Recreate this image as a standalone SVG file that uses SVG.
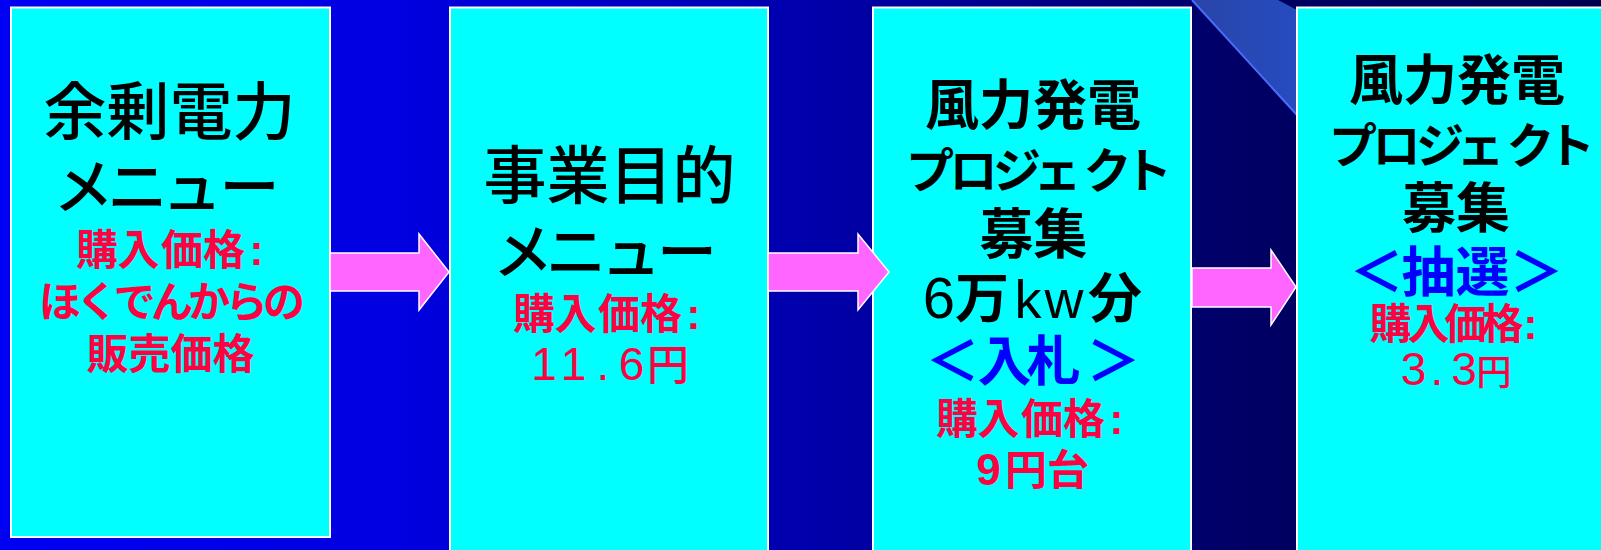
<svg xmlns="http://www.w3.org/2000/svg" width="1601" height="550" viewBox="0 0 1601 550">
<defs>
<linearGradient id="bg" x1="0" y1="0" x2="1601" y2="0" gradientUnits="userSpaceOnUse">
<stop offset="0" stop-color="#0000F2"/>
<stop offset="0.25" stop-color="#0000E0"/>
<stop offset="0.52" stop-color="#0000A8"/>
<stop offset="0.78" stop-color="#000064"/>
<stop offset="1" stop-color="#000050"/>
</linearGradient>
<linearGradient id="wedge" x1="1192" y1="0" x2="1297" y2="0" gradientUnits="userSpaceOnUse">
<stop offset="0" stop-color="#2A44A8"/>
<stop offset="1" stop-color="#264CC0"/>
</linearGradient>
<style>
.box{fill:#00FFFF;stroke:#FFFFFF;stroke-width:2}
.arrow{fill:#FF66FF;stroke:#FFFFFF;stroke-width:1.5}
text{font-family:"Liberation Sans","Noto Sans CJK JP",sans-serif;text-anchor:middle}
.t1{fill:#000000;font-size:63px;font-weight:500}
.k1{fill:#000000;font-size:60px;font-weight:500}
.t3{fill:#000000;font-size:54px;font-weight:700}
.k3{fill:#000000;font-size:48px;font-weight:700}
.lat{fill:#000000;font-size:54px;font-weight:400}
.red{fill:#FF0040;font-size:42px;font-weight:700}
.num{fill:#FF0040;font-size:46px;font-weight:500}
.blue{fill:#0000FF;font-size:54px;font-weight:700}
</style>
</defs>
<rect x="0" y="0" width="1601" height="550" fill="url(#bg)"/>
<polygon points="1192,0 1278,0 1297,10 1297,115" fill="url(#wedge)"/>
<line x1="1192" y1="0" x2="1297" y2="115" stroke="#4A6CFF" stroke-width="2"/>

<g id="box1">
<rect class="box" x="11" y="7.5" width="319" height="529.5"/>
<text class="t1" x="169.5" y="134">余剰電力</text>
<text class="k1" x="83.5 137.5 192 249.5" y="208.5">メニュー</text>
<text class="red" x="97 138.5 182 224 256.5" y="265">購入価格:</text>
<text class="red" font-size="41" x="60 97.3 134.7 172 209.3 246.7 284" y="317">ほくでんからの</text>
<text class="red" x="170.5" y="369">販売価格</text>
</g>

<g id="box2">
<rect class="box" x="450" y="7.5" width="318" height="560"/>
<text class="t1" x="609.5" y="198">事業目的</text>
<text class="k1" x="523 576 631 687" y="273.5">メニュー</text>
<text class="red" x="534 575.5 619 661 693.5" y="328.5">購入価格:</text>
<text class="num" y="380"><tspan x="544 573.5 603 631.5">11.6</tspan><tspan x="668" font-size="42">円</tspan></text>
</g>

<g id="box3">
<rect class="box" x="873" y="7.5" width="318" height="560"/>
<text class="t3" x="1033" y="125">風力発電</text>
<text class="k3" x="930 973.5 1017 1057.5 1107.5 1148" y="188">プロジェクト</text>
<text class="t3" x="1033.5" y="254">募集</text>
<text class="lat" y="318"><tspan x="939" font-size="58">6</tspan><tspan x="982" class="t3">万</tspan><tspan x="1028 1064">kw</tspan><tspan x="1115" class="t3">分</tspan></text>
<text class="blue" x="952.5 1004.5 1053.5 1113.5" y="381">＜入札＞</text>
<text class="red" x="957 998.5 1042 1084 1116.5" y="433.5">購入価格:</text>
<text class="red" font-size="40" y="485"><tspan x="988.5" font-size="44">9</tspan><tspan x="1026 1068">円台</tspan></text>
</g>

<g id="box4">
<rect class="box" x="1297" y="7.5" width="319" height="560"/>
<text class="t3" x="1457" y="99.5">風力発電</text>
<text class="k3" x="1353 1396.5 1440 1480.5 1530.5 1571" y="162.5">プロジェクト</text>
<text class="t3" x="1456" y="228">募集</text>
<text class="blue" x="1376.5 1428.5 1482.5 1536.5" y="292">＜抽選＞</text>
<text class="red" font-size="37" x="1390.5 1428.5 1465.5 1502.5 1530.5" y="338.5">購入価格:</text>
<text class="num" font-size="40" y="385"><tspan x="1413.5 1437 1464">3.3</tspan><tspan x="1494" font-size="35">円</tspan></text>
</g>

<g id="connectors">
<polygon class="arrow" points="330,253 419,253 419,234 449,272 419,310 419,291 330,291"/>
<polygon class="arrow" points="768,253 858,253 858,234 889,272 858,310 858,291 768,291"/>
<polygon class="arrow" points="1192,268 1271,268 1271,250 1296,287 1271,325 1271,307 1192,307"/>
</g>
</svg>
